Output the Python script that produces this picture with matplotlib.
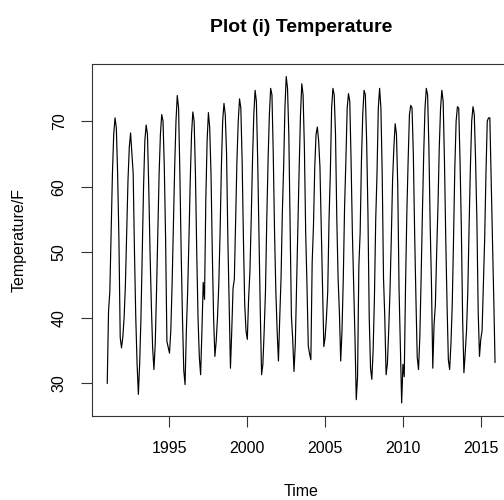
import numpy as np
import matplotlib
matplotlib.use('Agg')
from matplotlib import pyplot as plt

plt.rcParams['font.family'] = ['Liberation Sans', 'DejaVu Sans']

# monthly mean temperature (F), Jan..Dec
start_year = 1991
temps = {
    1991: [30.0, 41.0, 44.0, 53.0, 62.0, 68.0, 70.5, 69.0, 62.0, 52.0, 37.0, 35.4],
    1992: [37.0, 40.0, 45.0, 53.0, 61.0, 66.0, 68.2, 65.0, 62.0, 50.0, 40.0, 33.0],
    1993: [28.3, 33.0, 40.0, 50.0, 60.0, 67.0, 69.4, 68.0, 60.0, 50.0, 42.0, 35.4],
    1994: [32.1, 36.0, 44.0, 53.0, 62.0, 68.0, 71.0, 70.0, 63.0, 52.0, 36.4, 35.5],
    1995: [34.6, 38.0, 45.0, 54.0, 63.0, 70.0, 73.9, 72.0, 62.0, 50.0, 40.0, 32.0],
    1996: [29.8, 38.0, 44.0, 52.0, 61.0, 68.0, 71.4, 70.0, 62.0, 50.0, 40.0, 34.0],
    1997: [31.3, 38.0, 45.4, 42.8, 58.0, 67.0, 71.3, 69.0, 62.0, 50.0, 40.0, 34.1],
    1998: [36.4, 40.0, 45.0, 53.0, 63.0, 70.0, 72.7, 71.0, 65.0, 52.0, 42.0, 32.3],
    1999: [38.0, 44.5, 45.9, 55.0, 64.0, 70.0, 73.4, 72.0, 64.0, 52.0, 42.0, 38.0],
    2000: [36.7, 42.9, 47.0, 55.0, 64.0, 71.0, 74.7, 73.0, 64.0, 52.0, 41.0, 31.3],
    2001: [32.9, 38.0, 44.0, 55.0, 64.0, 71.0, 75.0, 74.0, 65.0, 53.0, 44.0, 38.0],
    2002: [33.4, 40.0, 46.0, 56.0, 63.0, 72.0, 76.8, 75.0, 68.0, 54.0, 40.2, 36.7],
    2003: [31.8, 36.0, 45.0, 54.0, 63.0, 71.0, 75.7, 74.0, 66.0, 53.0, 45.0, 35.7],
    2004: [34.5, 33.6, 48.4, 54.0, 63.0, 68.0, 69.1, 67.0, 63.0, 54.0, 45.0, 35.6],
    2005: [37.0, 40.0, 44.0, 55.0, 62.0, 72.0, 75.0, 74.0, 68.0, 55.0, 46.0, 40.8],
    2006: [33.4, 38.0, 46.0, 57.0, 64.0, 72.0, 74.2, 73.0, 64.0, 53.0, 45.0, 37.0],
    2007: [27.5, 31.0, 47.9, 53.0, 64.0, 71.0, 74.7, 74.0, 67.0, 56.0, 40.0, 32.3],
    2008: [30.6, 35.0, 43.0, 55.0, 62.0, 72.0, 75.0, 72.0, 62.0, 46.1, 40.0, 31.3],
    2009: [33.0, 38.0, 44.0, 52.0, 61.0, 66.0, 69.6, 68.0, 60.0, 44.3, 36.0, 27.0],
    2010: [32.9, 31.0, 45.0, 56.0, 64.0, 71.0, 72.4, 72.0, 65.0, 53.0, 43.0, 34.0],
    2011: [32.1, 37.0, 46.0, 56.0, 65.0, 72.0, 75.0, 74.0, 66.0, 54.0, 45.0, 32.3],
    2012: [39.0, 42.0, 50.0, 57.0, 66.0, 72.0, 74.7, 73.0, 64.0, 52.0, 42.0, 33.6],
    2013: [32.1, 36.0, 42.0, 52.0, 63.0, 70.0, 72.2, 72.0, 64.0, 54.0, 40.0, 31.6],
    2014: [34.6, 38.0, 44.0, 54.0, 63.0, 70.0, 72.2, 71.0, 64.0, 55.0, 41.0, 34.1],
    2015: [36.7, 38.0, 45.0, 52.0, 62.0, 70.0, 70.5, 70.5, 61.0, 52.0, 43.0, 33.2],
}

values = np.concatenate([temps[y] for y in sorted(temps)])
time = start_year + np.arange(len(values)) / 12.0

fig = plt.figure(figsize=(5.04, 5.0), dpi=100)
# right edge of the box runs past the picture, like the cropped original
ax = fig.add_axes([0.182, 0.168, 0.831, 0.705])
ax.plot(time, values, color='black', linewidth=0.85)
ax.margins(x=0.04, y=0.04)

ax.set_xticks([1995, 2000, 2005, 2010, 2015])
ax.set_yticks([30, 40, 50, 60, 70])
ax.tick_params(axis='both', labelsize=11.5, length=8, width=0.8, color='#333333')
ax.tick_params(axis='x', pad=10)
ax.tick_params(axis='y', pad=10)
for lab in ax.get_yticklabels():
    lab.set_rotation(90)
    lab.set_va('center')
for s in ax.spines.values():
    s.set_linewidth(0.8)
    s.set_color('#333333')

ax.set_title('Plot (i) Temperature', fontsize=14, fontweight='bold', pad=23)
ax.set_xlabel('Time', fontsize=11.5, labelpad=20)
ax.set_ylabel('Temperature/F', fontsize=11.5, labelpad=18)

plt.savefig('out.png', dpi=100)
plt.close()
